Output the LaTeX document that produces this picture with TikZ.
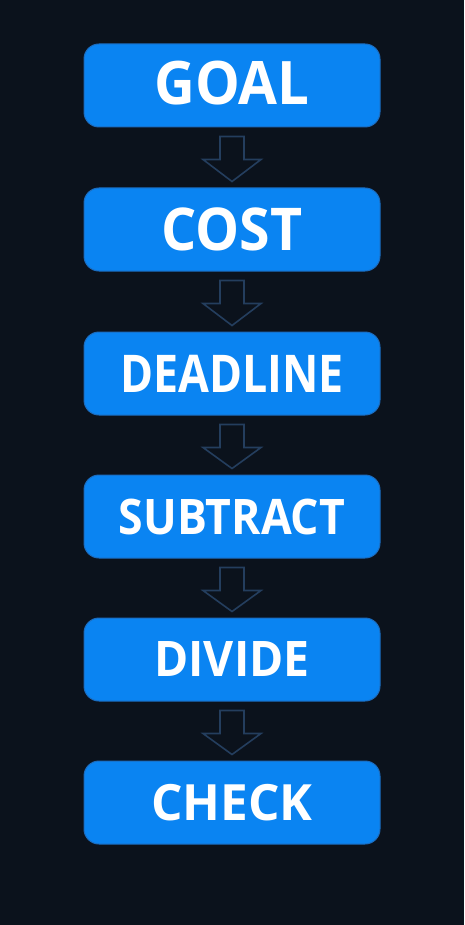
\documentclass[tikz,border=0pt]{standalone}
\usepackage{fontspec}
\usepackage{graphicx}
\setmainfont{Open Sans}
\usetikzlibrary{calc}
\definecolor{bg}{RGB}{11,18,28}
\definecolor{boxfill}{RGB}{10,132,242}
\definecolor{boxedge}{RGB}{28,108,190}
\definecolor{arrowedge}{RGB}{36,62,94}
\tikzset{
  stepbox/.style={draw=boxedge, line width=1pt, fill=boxfill, rounded corners=15pt,
    minimum width=296pt, minimum height=83pt, inner sep=0pt},
  steptext/.style={text=white, inner sep=0pt},
  flowarrow/.style={draw=arrowedge, line width=1.6pt, fill=bg, line join=miter}
}
\newcommand{\downarrowshape}[2]{%
  \draw[flowarrow]
    ($(#1.south)+(-12pt,-9pt)$) -- ($(#1.south)+(12pt,-9pt)$) --
    ($(#1.south)+(12pt,-32pt)$) -- ($(#1.south)+(29pt,-32pt)$) --
    ($(#2.north)+(0pt,6pt)$) --
    ($(#1.south)+(-29pt,-32pt)$) -- ($(#1.south)+(-12pt,-32pt)$) -- cycle;}
\newcommand{\steplabel}[3]{\fontsize{#1}{#1}\selectfont\bfseries\scalebox{#2}[1]{#3}}
\begin{document}
\begin{tikzpicture}[x=1pt,y=-1pt]
\fill[bg] (0,0) rectangle (464,925);
\useasboundingbox (0,0) rectangle (464,925);
\node[stepbox] (goal) at (232,85.5) {};
\node[stepbox] (cost) at (232,229.5) {};
\node[stepbox] (deadline) at (232,373.5) {};
\node[stepbox] (subtract) at (232,516.5) {};
\node[stepbox] (divide) at (232,659.5) {};
\node[stepbox] (check) at (232,802.5) {};
\node[steptext] (tgoal) at ([yshift=2pt]goal.center) {\steplabel{60}{0.94}{GOAL}};
\node[steptext] (tcost) at ([yshift=0pt]cost.center) {\steplabel{59}{0.94}{COST}};
\node[steptext] (tdeadline) at (deadline.center) {\steplabel{52}{0.86}{DEADLINE}};
\node[steptext] (tsubtract) at (subtract.center) {\steplabel{49}{0.91}{SUBTRACT}};
\node[steptext] (tdivide) at (divide.center) {\steplabel{49}{0.945}{DIVIDE}};
\node[steptext] (tcheck) at (check.center) {\steplabel{50}{0.99}{CHECK}};
\downarrowshape{goal}{cost}
\downarrowshape{cost}{deadline}
\downarrowshape{deadline}{subtract}
\downarrowshape{subtract}{divide}
\downarrowshape{divide}{check}
\end{tikzpicture}
\end{document}
